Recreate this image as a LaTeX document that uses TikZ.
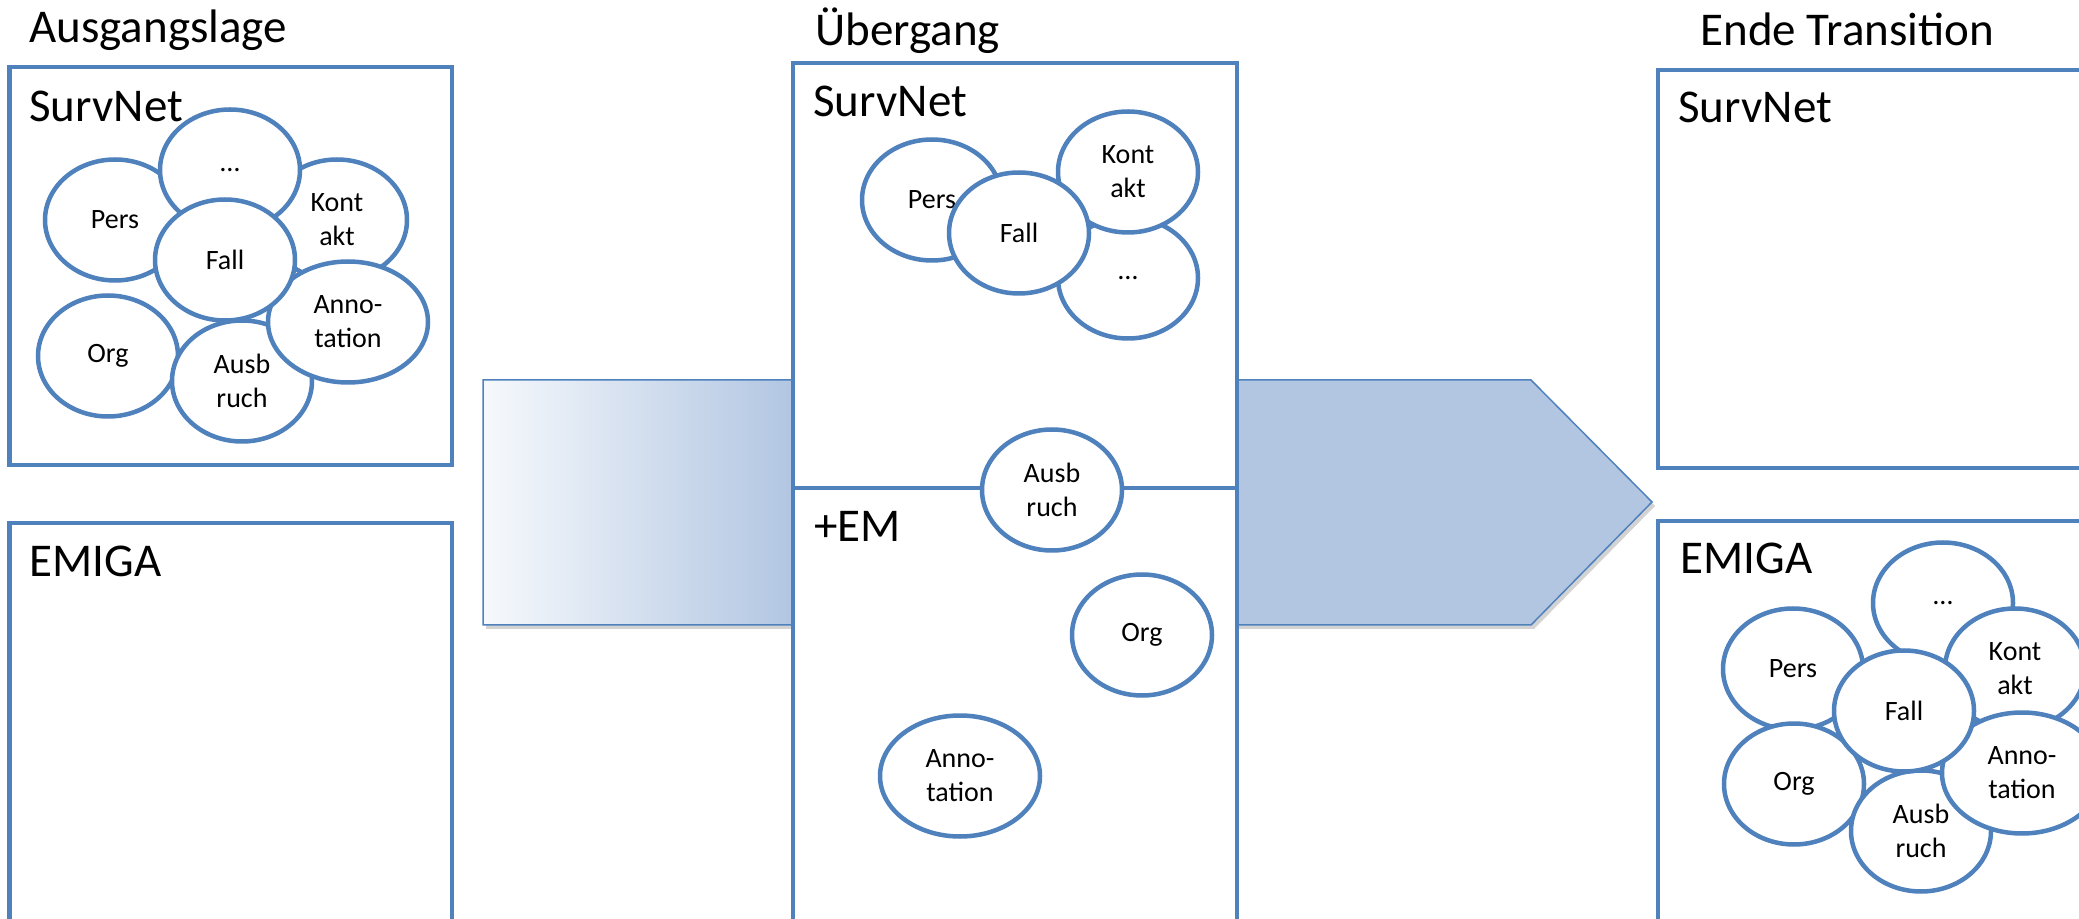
\documentclass[tikz,border=0pt]{standalone}
\usepackage{fontspec}
\setmainfont{Carlito}
\usepackage{xcolor}
\usepackage{tikz}
\usetikzlibrary{positioning, shadows, shapes.geometric}
\definecolor{officeblue}{HTML}{4F81BD}
\definecolor{arrowfill}{HTML}{B2C6E2}
\definecolor{arrowpale}{HTML}{F6F9FC}

\begin{document}
\begin{tikzpicture}[x=0.5pt,y=-0.5pt]
	\tikzstyle{blob}=[ellipse,draw=officeblue,line width=2.25pt,fill=white,inner sep=0pt,minimum width=70pt,minimum height=60.5pt,align=center,font=\fontsize{14}{17}\selectfont]
	\tikzstyle{wideblob}=[blob,minimum width=80pt]
	\tikzstyle{heading}=[anchor=base west,inner sep=0pt,font=\fontsize{23.5}{28}\selectfont]
	\tikzstyle{panel}=[draw=officeblue,line width=2.35pt,fill=white]
	\useasboundingbox (0,0) rectangle (2079,919);
	\clip (0,0) rectangle (2079,919);

	\path[fill=arrowfill,drop shadow={opacity=0.35,shadow xshift=1.5pt,shadow yshift=-2pt}]
		(483,380) -- (1531,380) -- (1652,502) -- (1531,625) -- (483,625) -- cycle;
	\shade[left color=arrowpale,right color=arrowfill] (483,380) rectangle (793,625);
	\draw[officeblue,line width=0.75pt] (483,380) -- (1531,380) -- (1652,502) -- (1531,625) -- (483,625) -- cycle;

	\draw[panel] (9.7,67) rectangle (452,465);
	\draw[panel] (9.7,523) rectangle (452,960);
	\draw[panel] (793,63) rectangle (1237,960);
	\draw[officeblue,line width=2.35pt] (793,488) -- (1237,488);
	\draw[panel] (1658,70) rectangle (2140,468);
	\draw[panel] (1658,521) rectangle (2140,960);

	\node[heading](h1) at (29,43) {Ausgangslage};
	\node[heading](h2) at (815,46) {Übergang};
	\node[heading](h3) at (1700,46) {Ende Transition};
	\node[heading](s1) at (29,122) {SurvNet};
	\node[heading](s2) at (813,117) {SurvNet};
	\node[heading](s3) at (1678,123) {SurvNet};
	\node[heading](m1) at (29,577) {EMIGA};
	\node[heading](m2) at (814,542) {+EM};
	\node[heading](m3) at (1680,574) {EMIGA};

	\node[blob](a1) at (115,220) {Pers};
	\node[blob](a2) at (337,220) {Kont\\akt};
	\node[blob](a3) at (230,170) {…};
	\node[blob](a4) at (108,356) {Org};
	\node[blob](a5) at (242,381) {Ausb\\ruch};
	\node[wideblob](a6) at (348,322) {Anno-\\tation};
	\node[blob](a7) at (225,260) {Fall};

	\node[blob](u1) at (1128,278) {…};
	\node[blob](u2) at (1128,172) {Kont\\akt};
	\node[blob](u3) at (932,200) {Pers};
	\node[blob](u4) at (1019,233) {Fall};
	\node[blob](u5) at (1052,490) {Ausb\\ruch};
	\node[blob](u6) at (1142,635) {Org};
	\node[wideblob](u7) at (960,776) {Anno-\\tation};

	\node[blob](e1) at (1943,603) {…};
	\node[blob](e2) at (1793,669) {Pers};
	\node[blob](e3) at (1794,784) {Org};
	\node[blob](e4) at (2015,669) {Kont\\akt};
	\node[blob](e5) at (1921,831) {Ausb\\ruch};
	\node[wideblob](e6) at (2022,773) {Anno-\\tation};
	\node[blob](e7) at (1904,711) {Fall};
\end{tikzpicture}
\end{document}
